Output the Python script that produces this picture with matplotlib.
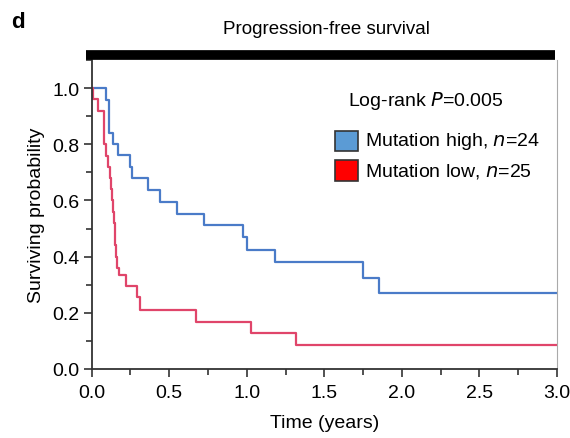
import matplotlib
matplotlib.use("Agg")
import matplotlib.pyplot as plt
from matplotlib.patches import Rectangle
from matplotlib.ticker import MultipleLocator
from matplotlib.lines import Line2D

plt.rcParams['font.family'] = ['Liberation Sans', 'DejaVu Sans']

# Data
high_t = [0.0, 0.095, 0.11, 0.138, 0.171, 0.246, 0.26, 0.364, 0.441, 0.549, 0.727, 0.978, 1.0, 1.18, 1.747, 1.854, 3.0]
high_s = [1.0, 0.959, 0.84, 0.80, 0.762, 0.718, 0.679, 0.638, 0.594, 0.552, 0.511, 0.469, 0.425, 0.38, 0.323, 0.27, 0.27]

low_t = [0.0, 0.01, 0.04, 0.08, 0.095, 0.105, 0.117, 0.125, 0.132, 0.138, 0.143, 0.148, 0.153, 0.158, 0.166, 0.177,
         0.224, 0.295, 0.31, 0.673, 1.03, 1.32, 3.0]
low_s = [1.0, 0.96, 0.92, 0.80, 0.76, 0.72, 0.68, 0.64, 0.60, 0.56, 0.52, 0.48, 0.44, 0.40, 0.36, 0.333,
         0.295, 0.255, 0.211, 0.169, 0.127, 0.085, 0.085]

x_ticks = [0.0, 0.5, 1.0, 1.5, 2.0, 2.5, 3.0]
y_ticks = [0.0, 0.2, 0.4, 0.6, 0.8, 1.0]

blue_line = '#4a7bc8'
red_line = '#e0456a'

fig = plt.figure(figsize=(5.7, 4.39), dpi=100)
ax = fig.add_axes([91.7 / 570, (439 - 370) / 439, (557 - 91.7) / 570, (370 - 61) / 439])

ax.step(high_t, high_s, where='post', color=blue_line, lw=1.6)
ax.step(low_t, low_s, where='post', color=red_line, lw=1.6)

ax.set_xlim(0, 3.0)
ax.set_ylim(0, 1.1)
ax.set_xticks(x_ticks)
ax.set_xticklabels([f"{v:.1f}" for v in x_ticks])
ax.set_yticks(y_ticks)
ax.set_yticklabels([f"{v:.1f}" for v in y_ticks])
ax.xaxis.set_minor_locator(MultipleLocator(0.25))
ax.yaxis.set_minor_locator(MultipleLocator(0.1))
ax.tick_params(which='major', length=6, width=1.2, labelsize=14, direction='out', color='#333333')
ax.tick_params(which='minor', length=4, width=1.2, direction='out', color='#333333')
ax.tick_params(axis='x', which='major', pad=5)
ax.tick_params(axis='y', which='major', pad=3)

ax.spines['top'].set_visible(False)
ax.spines['right'].set_color('#aaaaaa')
ax.spines['right'].set_linewidth(0.8)
ax.spines['left'].set_color('#333333')
ax.spines['bottom'].set_color('#333333')
ax.spines['left'].set_linewidth(1.3)
ax.spines['bottom'].set_linewidth(1.3)

ax.set_xlabel('Time (years)', fontsize=14, labelpad=9)
ax.set_ylabel('Surviving probability', fontsize=14, labelpad=5)

# Top bar and title
fig.add_artist(Line2D([86 / 570, 555 / 570], [1 - 56 / 439, 1 - 56 / 439], color='black', lw=7, solid_capstyle='butt'))
fig.text(326 / 570, 1 - 30 / 439, 'Progression-free survival', ha='center', va='center', fontsize=13.5)
fig.text(11 / 570, 1 - 23 / 439, 'd', ha='left', va='center', fontsize=16, fontweight='bold')

# Legend
fig.text(348 / 570, 1 - 101 / 439, 'Log-rank $\\it{P}$=0.005', ha='left', va='center', fontsize=14)
fig.add_artist(Rectangle((335 / 570, 1 - 151.7 / 439), 22.7 / 570, 20 / 439, facecolor='#5b9bd5',
                         edgecolor='#333333', lw=1.2, transform=fig.transFigure))
fig.add_artist(Rectangle((335 / 570, 1 - 181.7 / 439), 22.7 / 570, 20.7 / 439, facecolor='#ff0000',
                         edgecolor='#333333', lw=1.2, transform=fig.transFigure))
fig.text(365 / 570, 1 - 141.7 / 439, 'Mutation high, $\\it{n}$=24', ha='left', va='center', fontsize=14)
fig.text(365 / 570, 1 - 171.7 / 439, 'Mutation low, $\\it{n}$=25', ha='left', va='center', fontsize=14)

fig.savefig('out.png', dpi=100)
